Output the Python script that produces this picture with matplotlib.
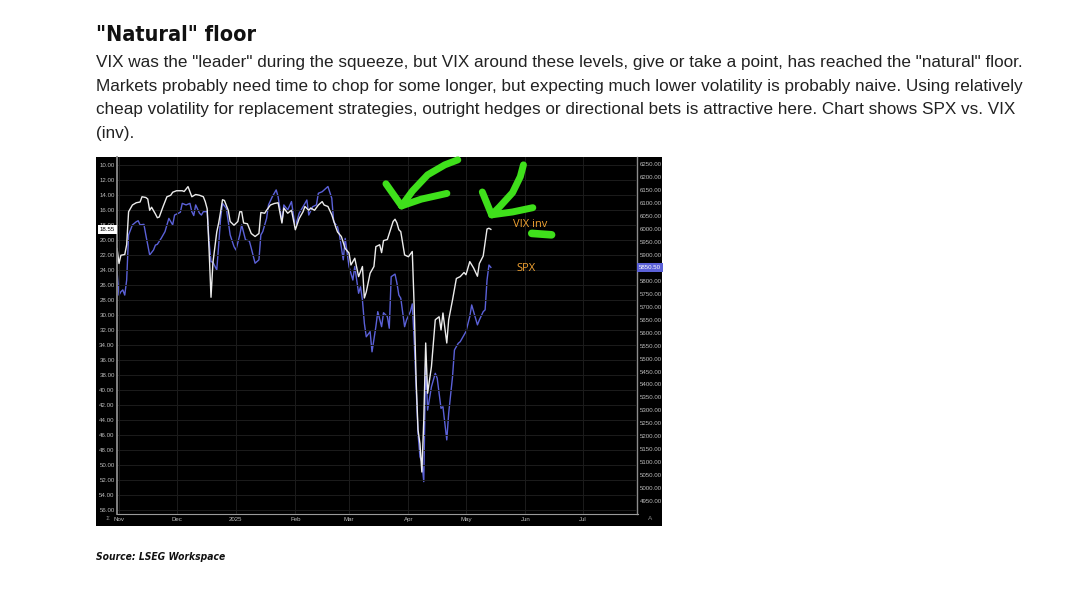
import datetime as dt
import matplotlib
matplotlib.use("Agg")
import matplotlib.pyplot as plt
import matplotlib.dates as mdates
from matplotlib import font_manager

# VIX (shown inverted, left axis) and SPX (right axis)
# days counted from 2024-10-31
start = dt.date(2024, 10, 31)

vix_day = [0, 1, 2, 4, 5, 6, 8, 10, 12, 13, 15, 16, 17, 18, 20, 21, 22, 24, 26, 28,
           29, 31, 34, 35, 37, 39, 41, 43, 45, 46, 47, 48, 49, 50, 52, 53, 54, 55, 56, 58,
           59, 61, 63, 64, 65, 66, 68, 70, 72, 74, 75, 77, 78, 80, 82, 84, 86, 87, 89, 91,
           93, 95, 97, 98, 100, 101, 103, 105, 107, 108, 110, 112, 114, 115, 117, 119, 121, 122, 124, 126,
           128, 129, 130, 132, 134, 135, 137, 138, 139, 141, 142, 144, 145, 146, 147, 148, 150, 152, 154, 155,
           156, 157, 158, 159, 160, 161, 162, 164, 165, 166, 168, 169, 170, 172, 173, 175, 177, 179, 181, 182,
           184, 186, 188, 189, 191, 193, 194, 195]
vix_val = [21.1, 23.1, 22.0, 21.9, 20.6, 16.2, 15.3, 15.0, 14.9, 14.2, 14.3, 14.5, 16.0, 15.6, 16.5, 17.0, 16.9, 15.5, 14.2, 14.0,
           13.6, 13.4, 13.4, 13.5, 12.85, 14.2, 13.9, 14.0, 14.2, 14.85, 15.8, 21.3, 27.6, 23.0, 18.9, 17.7, 16.2, 14.6, 14.7, 16.0,
           17.5, 18.0, 17.5, 16.2, 16.2, 17.7, 17.8, 19.1, 19.5, 19.1, 16.3, 16.4, 16.0, 15.3, 15.1, 15.0, 17.7, 15.7, 16.4, 16.0,
           18.6, 17.1, 16.2, 15.5, 16.0, 15.7, 16.0, 15.3, 14.85, 15.3, 15.5, 16.6, 18.2, 18.9, 19.5, 21.1, 21.7, 23.3, 22.4, 24.85,
           23.5, 27.7, 26.9, 24.4, 23.5, 20.85, 20.6, 21.65, 20.05, 19.9, 19.1, 17.5, 17.2, 17.7, 18.6, 18.85, 21.96, 22.2, 21.5, 28.85,
           38.6, 45.3, 47.1, 50.9, 44.0, 33.7, 40.4, 36.85, 33.7, 30.6, 30.2, 31.96, 29.7, 33.7, 30.6, 27.96, 25.1, 24.85, 24.3, 24.6,
           22.85, 23.7, 24.8, 23.1, 22.1, 18.5, 18.4, 18.55]

spx_day = [0, 1, 2, 3, 4, 5, 6, 8, 10, 11, 12, 14, 15, 17, 19, 20, 21, 23, 25, 27,
           29, 30, 32, 33, 34, 36, 38, 39, 40, 41, 43, 44, 45, 47, 48, 49, 50, 52, 53, 54,
           55, 57, 58, 59, 61, 62, 64, 65, 67, 69, 70, 72, 74, 75, 76, 78, 79, 81, 83, 84,
           86, 87, 89, 91, 92, 93, 95, 97, 99, 100, 102, 104, 105, 107, 109, 110, 112, 113, 115, 116,
           118, 119, 121, 123, 124, 126, 127, 128, 129, 130, 132, 133, 135, 136, 138, 139, 141, 142, 143, 145,
           146, 147, 148, 150, 151, 153, 154, 155, 156, 157, 158, 159, 160, 161, 162, 164, 166, 167, 169, 170,
           172, 173, 175, 176, 178, 179, 181, 182, 184, 185, 186, 188, 189, 191, 192, 193, 194, 195]
spx_val = [5835, 5745, 5758, 5765, 5745, 5803, 5977, 6016, 6028, 6032, 6016, 6018, 5977, 5900, 5919, 5938, 5941, 5964, 5990, 6041,
           6016, 6054, 6061, 6065, 6099, 6093, 6099, 6067, 6052, 6093, 6061, 6054, 6067, 6067, 5951, 5874, 5872, 5842, 5938, 6041,
           6099, 6080, 6028, 5977, 5932, 5919, 5977, 6016, 5958, 5954, 5926, 5868, 5881, 5977, 5990, 6041, 6093, 6125, 6151, 6125,
           6028, 6093, 6074, 6106, 6054, 6009, 6061, 6086, 6112, 6054, 6086, 6093, 6138, 6144, 6157, 6164, 6119, 6028, 6009, 5977,
           5881, 5964, 5855, 5803, 5855, 5752, 5777, 5726, 5636, 5584, 5604, 5526, 5623, 5681, 5623, 5677, 5662, 5617, 5816, 5826,
           5791, 5745, 5733, 5623, 5649, 5681, 5711, 5572, 5391, 5211, 5121, 5102, 5025, 5494, 5301, 5391, 5443, 5424, 5308, 5314,
           5186, 5289, 5430, 5533, 5559, 5565, 5591, 5604, 5662, 5707, 5681, 5630, 5649, 5681, 5688, 5803, 5861, 5852]

vix_ticks = list(range(10, 57, 2))
spx_ticks = list(range(4950, 6251, 50))
month_ticks = ["2024-11-01", "2024-12-01", "2025-01-01", "2025-02-01", "2025-03-01",
               "2025-04-01", "2025-05-01", "2025-06-01", "2025-07-01"]
month_labels = ["Nov", "Dec", "2025", "Feb", "Mar", "Apr", "May", "Jun", "Jul"]

vix_last = 18.55
spx_last = 5850.50

title = '"Natural" floor'
body = [
    'VIX was the "leader" during the squeeze, but VIX around these levels, give or take a point, has reached the "natural" floor.',
    'Markets probably need time to chop for some longer, but expecting much lower volatility is probably naive. Using relatively',
    'cheap volatility for replacement strategies, outright hedges or directional bets is attractive here. Chart shows SPX vs. VIX',
    '(inv).',
]
source = "Source: LSEG Workspace"

# is a condensed DejaVu around? otherwise fall back to Roboto
has_cond = any(f.name == "DejaVu Sans" and str(f.stretch) not in ("normal", "500")
               for f in font_manager.fontManager.ttflist)
if has_cond:
    head_font = dict(family=["DejaVu Sans"], fontstretch="condensed")
    title_size, source_size = 15.5, 7.4
else:
    head_font = dict(family=["Roboto", "DejaVu Sans"])
    title_size, source_size = 14.5, 6.8

W, H = 1077, 592
fig = plt.figure(figsize=(W / 100, H / 100), dpi=100)
fig.patch.set_facecolor("white")


def box(x0, y0, x1, y1):
    return [x0 / W, 1 - y1 / H, (x1 - x0) / W, (y1 - y0) / H]


# black chart panel
panel = fig.add_axes(box(96, 157, 662, 526), facecolor="black")
panel.set_xticks([])
panel.set_yticks([])
for s in panel.spines.values():
    s.set_visible(False)

ax = fig.add_axes(box(116.7, 157, 637.5, 514), facecolor="black")
ax2 = ax.twinx()
ax.set_zorder(ax2.get_zorder() + 1)
ax.patch.set_visible(False)

t0 = mdates.date2num(start)
vix_x = [t0 + d for d in vix_day]
spx_x = [t0 + d for d in spx_day]

ax2.plot(spx_x, spx_val, color="#5b61d8", lw=1.0)
ax.plot(vix_x, vix_val, color="#ececec", lw=1.0)

ax.set_xlim(t0 - 0.2, t0 + 271.5)
ax.set_ylim(56.5, 8.9)
ax2.set_ylim(4900, 6278)

tick_col = "#bdbdbd"
tick_font = ["Liberation Sans", "DejaVu Sans"]
ax.set_yticks(vix_ticks)
ax.set_yticklabels([f"{v:.2f}" for v in vix_ticks], family=tick_font)
ax2.set_yticks(spx_ticks)
ax2.set_yticklabels([f"{v:.2f}" for v in spx_ticks], family=tick_font)
ax.set_xticks([mdates.datestr2num(m) for m in month_ticks])
ax.set_xticklabels(month_labels, family=tick_font)
ax.tick_params(axis="y", length=0, pad=1.5, labelsize=4.4, labelcolor=tick_col)
ax.tick_params(axis="x", length=0, pad=2.2, labelsize=4.4, labelcolor=tick_col)
ax2.tick_params(axis="y", length=0, pad=1.8, labelsize=4.4, labelcolor=tick_col)

ax.grid(True, color="#1c1c1c", lw=0.7)

for a in (ax, ax2):
    for s in a.spines.values():
        s.set_visible(False)
ax.spines["left"].set_visible(True)
ax.spines["left"].set_color("#8c8c8c")
ax.spines["left"].set_linewidth(1.3)
ax.spines["bottom"].set_visible(True)
ax.spines["bottom"].set_color("#9a9a9a")
ax.spines["bottom"].set_linewidth(0.8)
ax2.spines["right"].set_visible(True)
ax2.spines["right"].set_color("#8c8c8c")
ax2.spines["right"].set_linewidth(1.0)

# last value badges
ax.text(-0.003, vix_last, f"{vix_last:.2f}", transform=ax.get_yaxis_transform(),
        ha="right", va="center", fontsize=4.4, color="black", family=tick_font,
        bbox=dict(boxstyle="square,pad=0.3", fc="white", ec="none"))
ax2.text(1.003, spx_last, f"{spx_last:.2f}", transform=ax2.get_yaxis_transform(),
         ha="left", va="center", fontsize=4.4, color="white", family=tick_font,
         bbox=dict(boxstyle="square,pad=0.3", fc="#5b61d8", ec="none"))

# small corner icons
fig.text(107 / W, 1 - 519 / H, "Σ", fontsize=4.5, color="#8a8a8a", ha="center", va="center")
fig.text(650 / W, 1 - 519 / H, "A", fontsize=4.5, color="#8a8a8a", ha="center", va="center")

# series labels
orange = "#f0a232"
ax.text(0.761, 0.812, "VIX inv", transform=ax.transAxes, color=orange,
        fontsize=8, family=["Open Sans", "DejaVu Sans"], ha="left", va="center")
ax.text(0.767, 0.689, "SPX", transform=ax.transAxes, color=orange,
        fontsize=8, family=["Open Sans", "DejaVu Sans"], ha="left", va="center")

# hand drawn green marks
green = "#3fe01b"
strokes = [
    ([0.655, 0.630, 0.597, 0.568, 0.547], [0.992, 0.978, 0.950, 0.905, 0.863]),
    ([0.517, 0.547], [0.925, 0.863]),
    ([0.547, 0.585, 0.634], [0.863, 0.882, 0.898]),
    ([0.781, 0.775, 0.760, 0.735, 0.720], [0.978, 0.945, 0.900, 0.860, 0.838]),
    ([0.702, 0.720], [0.902, 0.838]),
    ([0.720, 0.760, 0.799], [0.838, 0.846, 0.858]),
]
for xs, ys in strokes:
    ax.plot(xs, ys, transform=ax.transAxes, color=green, lw=5,
            solid_capstyle="round", solid_joinstyle="round", clip_on=False, zorder=5)
ax.plot([0.797, 0.835], [0.786, 0.782], transform=ax.transAxes, color=green, lw=5.5,
        solid_capstyle="round", clip_on=False, zorder=5)

# article text
fig.text(96 / W, 1 - 40.7 / H, title, fontsize=title_size, fontweight="bold",
         color="#111111", ha="left", va="baseline", **head_font)
for i, line in enumerate(body):
    fig.text(96 / W, 1 - (67.3 + 23.55 * i) / H, line, fontsize=12.3, color="#222222",
             family=["Liberation Sans", "DejaVu Sans"], ha="left", va="baseline")
fig.text(96 / W, 1 - 560 / H, source, fontsize=source_size, fontweight="bold",
         style="italic", color="#111111", ha="left", va="baseline", **head_font)

fig.savefig("out.png", dpi=100, facecolor="white")
